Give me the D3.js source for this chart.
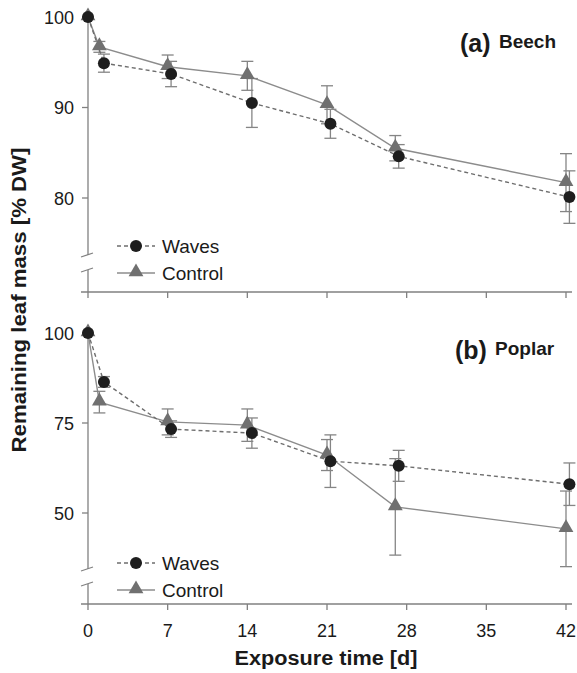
<!DOCTYPE html>
<html>
<head>
<meta charset="utf-8">
<script src="https://cdn.jsdelivr.net/npm/d3@7"></script>
<style>
  body { margin: 0; background: #fff; }
  svg { font-family: "Liberation Sans", Arial, sans-serif; }
</style>
</head>
<body>
<svg id="chart" width="577" height="673"></svg>
<script>
// days (waves points sit slightly right of control points)
const waveDays = [0, 1.4, 7.3, 14.4, 21.3, 27.3, 42.3];
const controlDays = [0, 1, 7, 14, 21, 27, 42];
const xTicks = [0, 7, 14, 21, 28, 35, 42];

// (a) Beech
const beechWaves = [100, 94.9, 93.7, 90.5, 88.2, 84.6, 80.1];
const beechWavesErr = [0, 1.0, 1.4, 2.7, 1.6, 1.3, 2.9];
const beechControl = [100, 96.7, 94.5, 93.5, 90.3, 85.5, 81.7];
const beechControlErr = [0, 0.6, 1.3, 1.6, 2.1, 1.4, 3.2];
const beechTicks = [80, 90, 100];

// (b) Poplar
const poplarWaves = [100, 86.4, 73.3, 72.2, 64.4, 63.1, 58.0];
const poplarWavesErr = [0, 1.5, 2.3, 4.2, 7.3, 4.3, 5.9];
const poplarControl = [100, 80.8, 75.3, 74.4, 66.1, 51.7, 45.6];
const poplarControlErr = [0, 3.0, 3.6, 4.5, 4.3, 13.4, 10.5];
const poplarTicks = [50, 75, 100];

const svg = d3.select("#chart");
const axisColor = "#808080";
const textColor = "#1a1a1a";

const x = d3.scaleLinear().domain([0, 42]).range([88, 566]);

function drawPanel(opts) {
    const y = d3.scaleLinear().domain(opts.yDomain).range(opts.yRange);
    const g = svg.append("g");
    const bottom = opts.bottom;

    // x axis
    g.append("line")
        .attr("x1", 81).attr("x2", 572)
        .attr("y1", bottom).attr("y2", bottom)
        .attr("stroke", axisColor).attr("stroke-width", 1.3);
    g.selectAll(".xtick").data(xTicks).enter().append("line")
        .attr("x1", d => x(d)).attr("x2", d => x(d))
        .attr("y1", bottom).attr("y2", bottom + 6)
        .attr("stroke", axisColor).attr("stroke-width", 1.3);
    if (opts.xLabels) {
        g.selectAll(".xlab").data(xTicks).enter().append("text")
            .attr("x", d => x(d)).attr("y", bottom + 33)
            .attr("text-anchor", "middle")
            .attr("font-size", 18).attr("fill", textColor)
            .text(d => d);
    }

    // y axis with break
    const yTop = y(opts.yDomain[1]) - 4;
    g.append("line")
        .attr("x1", x(0)).attr("x2", x(0))
        .attr("y1", yTop).attr("y2", opts.breakAt)
        .attr("stroke", axisColor).attr("stroke-width", 1.3);
    g.append("line")
        .attr("x1", x(0)).attr("x2", x(0))
        .attr("y1", opts.breakAt + 15).attr("y2", bottom)
        .attr("stroke", axisColor).attr("stroke-width", 1.3);
    [opts.breakAt, opts.breakAt + 15].forEach(b => {
        g.append("line")
            .attr("x1", x(0) - 7).attr("x2", x(0) + 5)
            .attr("y1", b + 2).attr("y2", b - 2)
            .attr("stroke", axisColor).attr("stroke-width", 1.3);
    });
    g.selectAll(".ytick").data(opts.yTicks).enter().append("line")
        .attr("x1", x(0) - 6).attr("x2", x(0))
        .attr("y1", d => y(d)).attr("y2", d => y(d))
        .attr("stroke", axisColor).attr("stroke-width", 1.3);
    g.selectAll(".ylab").data(opts.yTicks).enter().append("text")
        .attr("x", x(0) - 14).attr("y", d => y(d) + 6.5)
        .attr("text-anchor", "end")
        .attr("font-size", 18).attr("fill", textColor)
        .text(d => d);

    const series = [
        { days: controlDays, vals: opts.control, err: opts.controlErr, dash: null, lineColor: "#8c8c8c" },
        { days: waveDays, vals: opts.waves, err: opts.wavesErr, dash: "4,3", lineColor: "#6e6e6e" }
    ];

    const line = d3.line().x(d => x(d[0])).y(d => y(d[1]));

    series.forEach(s => {
        const pts = s.days.map((d, i) => [d, s.vals[i], s.err[i]]);
        g.append("path")
            .attr("d", line(pts))
            .attr("fill", "none")
            .attr("stroke", s.lineColor)
            .attr("stroke-width", 1.4)
            .attr("stroke-dasharray", s.dash);
        const eb = g.append("g").attr("stroke", "#858585").attr("stroke-width", 1.3);
        pts.filter(p => p[2] > 0).forEach(p => {
            const cx = x(p[0]);
            eb.append("line").attr("x1", cx).attr("x2", cx)
                .attr("y1", y(p[1] - p[2])).attr("y2", y(p[1] + p[2]));
            eb.append("line").attr("x1", cx - 6).attr("x2", cx + 6)
                .attr("y1", y(p[1] - p[2])).attr("y2", y(p[1] - p[2]));
            eb.append("line").attr("x1", cx - 6).attr("x2", cx + 6)
                .attr("y1", y(p[1] + p[2])).attr("y2", y(p[1] + p[2]));
        });
    });

    // markers
    const tri = d3.symbol().type(d3.symbolTriangle).size(95);
    g.selectAll(".tri").data(controlDays.map((d, i) => [d, opts.control[i]])).enter()
        .append("path")
        .attr("d", tri)
        .attr("transform", d => "translate(" + x(d[0]) + "," + (y(d[1]) - 1) + ")")
        .attr("fill", "#707070");
    g.selectAll(".circ").data(waveDays.map((d, i) => [d, opts.waves[i]])).enter()
        .append("circle")
        .attr("cx", d => x(d[0])).attr("cy", d => y(d[1]))
        .attr("r", 6)
        .attr("fill", "#1e1e1e");

    // legend
    const lx1 = 117, lx2 = 155, lxm = 136, tx = 162;
    const ly1 = opts.legendY, ly2 = opts.legendY + 27;
    g.append("line").attr("x1", lx1).attr("x2", lx2).attr("y1", ly1).attr("y2", ly1)
        .attr("stroke", "#6e6e6e").attr("stroke-width", 1.4).attr("stroke-dasharray", "4,3");
    g.append("circle").attr("cx", lxm).attr("cy", ly1).attr("r", 6).attr("fill", "#1e1e1e");
    g.append("line").attr("x1", lx1).attr("x2", lx2).attr("y1", ly2).attr("y2", ly2)
        .attr("stroke", "#8c8c8c").attr("stroke-width", 1.4);
    g.append("path").attr("d", tri)
        .attr("transform", "translate(" + lxm + "," + (ly2 - 1) + ")")
        .attr("fill", "#707070");
    g.append("text").attr("x", tx).attr("y", ly1 + 7).attr("font-size", 19)
        .attr("fill", textColor).text("Waves");
    g.append("text").attr("x", tx).attr("y", ly2 + 7).attr("font-size", 19)
        .attr("fill", textColor).text("Control");

    // panel title
    g.append("text").attr("x", opts.titleX).attr("y", opts.titleY)
        .attr("fill", textColor).attr("font-weight", "bold")
        .attr("font-size", 25).text(opts.letter);
    g.append("text").attr("x", opts.nameX).attr("y", opts.titleY - 4)
        .attr("fill", textColor).attr("font-weight", "bold")
        .attr("font-size", 19).text(opts.name);
}

drawPanel({
    yDomain: [80, 100], yRange: [198, 17], yTicks: beechTicks,
    bottom: 292, breakAt: 255, xLabels: false,
    waves: beechWaves, wavesErr: beechWavesErr,
    control: beechControl, controlErr: beechControlErr,
    legendY: 246, titleX: 460, nameX: 499, titleY: 52, letter: "(a)", name: "Beech"
});

drawPanel({
    yDomain: [50, 100], yRange: [513, 333], yTicks: poplarTicks,
    bottom: 604, breakAt: 569, xLabels: true,
    waves: poplarWaves, wavesErr: poplarWavesErr,
    control: poplarControl, controlErr: poplarControlErr,
    legendY: 563, titleX: 455, nameX: 495, titleY: 359, letter: "(b)", name: "Poplar"
});

// axis titles
svg.append("text")
    .attr("transform", "translate(26,300) rotate(-90)")
    .attr("text-anchor", "middle")
    .attr("font-size", 21).attr("font-weight", "bold").attr("fill", textColor)
    .attr("textLength", 305).attr("lengthAdjust", "spacingAndGlyphs")
    .text("Remaining leaf mass [% DW]");
svg.append("text")
    .attr("x", 326).attr("y", 665)
    .attr("text-anchor", "middle")
    .attr("font-size", 20).attr("font-weight", "bold").attr("fill", textColor)
    .attr("textLength", 183).attr("lengthAdjust", "spacingAndGlyphs")
    .text("Exposure time [d]");
</script>
</body>
</html>
